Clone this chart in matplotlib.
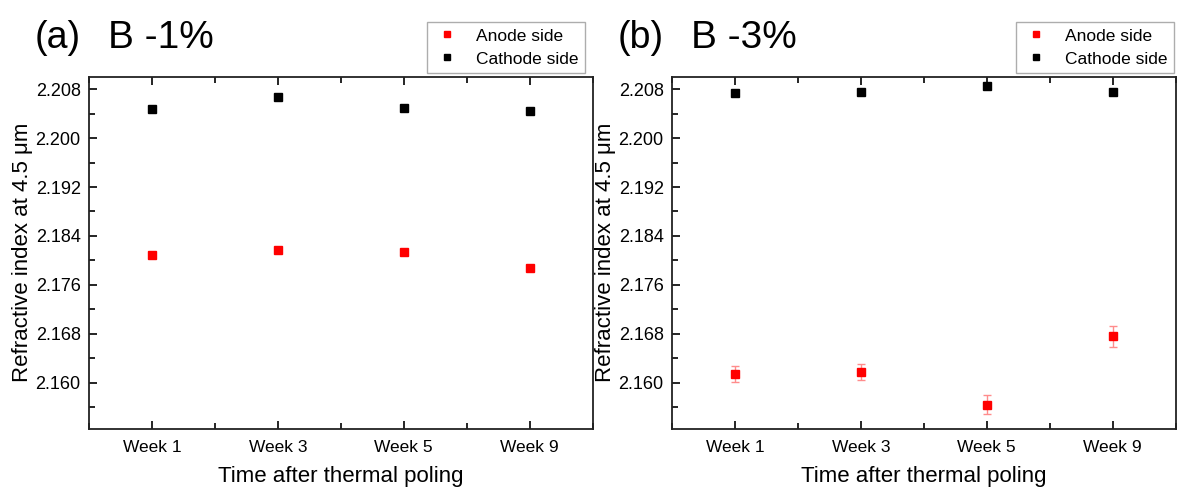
import matplotlib
matplotlib.use("Agg")
import matplotlib.pyplot as plt
from matplotlib.lines import Line2D
from matplotlib.ticker import MultipleLocator

plt.rcParams['font.family'] = ['Liberation Sans', 'DejaVu Sans']

# * data
weeks = ["Week 1", "Week 3", "Week 5", "Week 9"]

anode_1 = [2.1809, 2.1817, 2.1814, 2.1788]
anode_1_err = [0.0005, 0.0002, 0.0002, 0.0002]
cathode_1 = [2.2047, 2.2068, 2.2049, 2.2045]
cathode_1_err = [0.0002, 0.0002, 0.0002, 0.0002]

anode_3 = [2.1614, 2.1618, 2.1564, 2.1676]
anode_3_err = [0.0013, 0.0013, 0.0016, 0.0017]
cathode_3 = [2.2074, 2.2075, 2.2085, 2.2076]
cathode_3_err = [0.0002, 0.0002, 0.0002, 0.0002]

panel_tags = ["(a)", "(b)"]
panel_names = ["B -1%", "B -3%"]
yticks = [2.160, 2.168, 2.176, 2.184, 2.192, 2.200, 2.208]

panels = [
    (anode_1, anode_1_err, cathode_1, cathode_1_err),
    (anode_3, anode_3_err, cathode_3, cathode_3_err),
]

DPI = 100
fig = plt.figure(figsize=(1185 / DPI, 487 / DPI), dpi=DPI)

ax_lefts = [89 / 1185, 672 / 1185]
x = list(range(1, len(weeks) + 1))

for i, (an, an_err, ca, ca_err) in enumerate(panels):
    ax = fig.add_axes([ax_lefts[i], 0.12, 0.425, 0.722])

    ax.errorbar(x, an, yerr=an_err, fmt="s", color="red", ms=6,
                ecolor=(1, 0.55, 0.55), elinewidth=1, capsize=3)
    ax.errorbar(x, ca, yerr=ca_err, fmt="s", color="black", ms=6,
                ecolor="gray", elinewidth=1, capsize=3)

    ax.set_xlim(0.5, 4.5)
    ax.set_ylim(2.1525, 2.2100)
    ax.set_xticks(x)
    ax.set_xticklabels(weeks)
    ax.xaxis.set_minor_locator(MultipleLocator(0.5))
    ax.set_yticks(yticks)
    ax.set_yticklabels([f"{v:.3f}" for v in yticks])
    ax.yaxis.set_minor_locator(MultipleLocator(0.004))

    ax.tick_params(axis="x", which="both", direction="in", top=True, labelsize=12.5, pad=8)
    ax.tick_params(axis="y", which="both", direction="in", labelsize=13, pad=6)
    ax.tick_params(which="major", length=6, width=1.2)
    ax.tick_params(which="minor", length=4, width=1.2)
    for sp in ax.spines.values():
        sp.set_linewidth(1.3)
        sp.set_color("#222222")

    ax.set_xlabel("Time after thermal poling", fontsize=16, labelpad=8)
    ax.set_ylabel("Refractive index at 4.5 \u03bcm", fontsize=16, labelpad=2)

    # * legend shows only the square markers
    handles = [
        Line2D([], [], ls="none", marker="s", color="red", ms=5),
        Line2D([], [], ls="none", marker="s", color="black", ms=5),
    ]
    leg = ax.legend(handles, ["Anode side", "Cathode side"],
                    loc="upper right", bbox_to_anchor=(1.002 + 0.012 * i, 1.18),
                    fontsize=12.5, frameon=True, fancybox=False,
                    handletextpad=0.9, handlelength=1.6, borderpad=0.35,
                    labelspacing=0.45)
    leg.get_frame().set_edgecolor("#999999")
    leg.get_frame().set_linewidth(1)

    fig.text(ax_lefts[i] - 54 / 1185, 1 - 48 / 487, panel_tags[i], fontsize=27,
             ha="left", va="baseline")
    fig.text(ax_lefts[i] + 19 / 1185, 1 - 48 / 487, panel_names[i], fontsize=28,
             ha="left", va="baseline")

fig.savefig("out.png", dpi=DPI)
